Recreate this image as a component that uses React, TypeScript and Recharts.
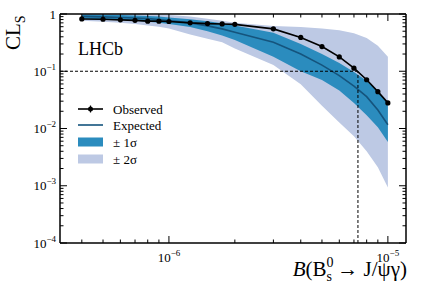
import React from "react";
import {
  Area,
  ComposedChart,
  Legend,
  Line,
  ReferenceLine,
  XAxis,
  YAxis,
} from "recharts";

// branching fraction scan points
const scanPoints = [
  4e-7, 5e-7, 6e-7, 7e-7, 8e-7, 9e-7, 1e-6, 1.25e-6, 1.5e-6, 1.75e-6, 2e-6,
  3e-6, 4e-6, 5e-6, 6e-6, 7e-6, 8e-6, 9e-6, 1e-5,
];
const observed = [
  0.82, 0.81, 0.79, 0.775, 0.75, 0.75, 0.74, 0.7, 0.68, 0.67, 0.66, 0.55, 0.39,
  0.27, 0.178, 0.113, 0.071, 0.044, 0.028,
];
const expected = [
  0.91, 0.89, 0.87, 0.85, 0.83, 0.8, 0.77, 0.7, 0.62, 0.55, 0.48, 0.32, 0.2,
  0.128, 0.084, 0.055, 0.036, 0.021, 0.0116,
];
const sigma1Lo = [
  0.83, 0.81, 0.79, 0.76, 0.73, 0.7, 0.67, 0.59, 0.5, 0.42, 0.35, 0.18, 0.1,
  0.07, 0.046, 0.028, 0.017, 0.0105, 0.0058,
];
const sigma1Hi = [
  0.98, 0.97, 0.96, 0.94, 0.92, 0.9, 0.87, 0.81, 0.75, 0.69, 0.63, 0.47, 0.3,
  0.2, 0.14, 0.097, 0.068, 0.045, 0.027,
];
const sigma2Lo = [
  0.76, 0.73, 0.7, 0.67, 0.63, 0.6, 0.56, 0.44, 0.37, 0.32, 0.25, 0.128, 0.059,
  0.025, 0.0127, 0.0073, 0.004, 0.0021, 0.00093,
];
const sigma2Hi = [
  1.0, 1.0, 1.0, 1.0, 0.99, 0.98, 0.96, 0.9, 0.83, 0.76, 0.7, 0.62, 0.59, 0.56,
  0.52, 0.46, 0.38, 0.28, 0.18,
];

// 90% CL upper limit
const CL_LEVEL = 0.1;
const UPPER_LIMIT = 7.3e-6;

const X_DOMAIN = [3.18e-7, 1.21e-5];
const Y_DOMAIN = [1e-4, 1];

const xTicks = [
  4e-7, 5e-7, 6e-7, 7e-7, 8e-7, 9e-7, 1e-6, 2e-6, 3e-6, 4e-6, 5e-6, 6e-6, 7e-6,
  8e-6, 9e-6, 1e-5,
];
const yTicks = [1e-4, 1e-3, 1e-2, 1e-1, 1].flatMap((d) =>
  d === 1 ? [1] : [1, 2, 3, 4, 5, 6, 7, 8, 9].map((m) => m * d)
);

const data = scanPoints.map((x, i) => ({
  x,
  observed: observed[i],
  expected: expected[i],
  band1: [sigma1Lo[i], sigma1Hi[i]],
  band2: [sigma2Lo[i], sigma2Hi[i]],
}));

const FONT = '"Liberation Serif", "Times New Roman", serif';
const BAND1 = "#2b8cbe";
const BAND2 = "#bdc9e4";
const EXP_LINE = "#15547d";

const isMajor = (v: number) => {
  const l = Math.log10(v);
  return Math.abs(l - Math.round(l)) < 1e-6;
};

function PowerLabel({ v }: { v: number }) {
  const e = Math.round(Math.log10(v));
  if (e === 0) return <tspan>1</tspan>;
  return (
    <>
      <tspan>10</tspan>
      <tspan dy={-6} fontSize={9}>
        {"\u2212" + Math.abs(e)}
      </tspan>
    </>
  );
}

function AxisTick(props: any) {
  const { x, y, payload, side } = props;
  const v = payload.value;
  const major = isMajor(v);
  const len = major ? 7 : 3.5;
  if (side === "bottom") {
    return (
      <g>
        <line x1={x} y1={y} x2={x} y2={y - len} stroke="#000" strokeWidth={1} />
        {major && (
          <text x={x} y={y + 19} textAnchor="middle" fontSize={13} fontFamily={FONT} fill="#000">
            <PowerLabel v={v} />
          </text>
        )}
      </g>
    );
  }
  if (side === "top") {
    return <line x1={x} y1={y} x2={x} y2={y + len} stroke="#000" strokeWidth={1} />;
  }
  if (side === "right") {
    return <line x1={x} y1={y} x2={x - len} y2={y} stroke="#000" strokeWidth={1} />;
  }
  return (
    <g>
      <line x1={x} y1={y} x2={x + len} y2={y} stroke="#000" strokeWidth={1} />
      {major && (
        <text x={x - 4} y={y + 4.5} textAnchor="end" fontSize={13} fontFamily={FONT} fill="#000">
          <PowerLabel v={v} />
        </text>
      )}
    </g>
  );
}

function LegendBox() {
  const rows = [
    { label: "Observed", kind: "obs" },
    { label: "Expected", kind: "exp" },
    { label: "\u00b1 1\u03c3", kind: "b1" },
    { label: "\u00b1 2\u03c3", kind: "b2" },
  ];
  const ys = [9, 25, 42, 59];
  return (
    <svg width={100} height={70} style={{ display: "block" }}>
      {rows.map((r, i) => {
        const y = ys[i];
        return (
          <g key={r.label}>
            {r.kind === "obs" && (
              <>
                <line x1={2} x2={27} y1={y} y2={y} stroke="#000" strokeWidth={1.6} />
                <circle cx={14.5} cy={y} r={2.5} fill="#000" />
                <line x1={14.5} x2={14.5} y1={y - 3.5} y2={y + 3.5} stroke="#000" strokeWidth={1.2} />
              </>
            )}
            {r.kind === "exp" && (
              <line x1={2} x2={27} y1={y} y2={y} stroke={EXP_LINE} strokeWidth={1.6} />
            )}
            {r.kind === "b1" && <rect x={2} y={y - 4.5} width={25} height={9} fill={BAND1} />}
            {r.kind === "b2" && <rect x={2} y={y - 4.5} width={25} height={9} fill={BAND2} />}
            <text x={37} y={y + 4.5} fontSize={13} fontFamily={FONT} fill="#000">
              {r.label}
            </text>
          </g>
        );
      })}
    </svg>
  );
}

export default function App() {
  return (
    <div style={{ position: "absolute", left: 0, top: 0, width: 427, height: 290, background: "#fff" }}>
      <ComposedChart
        width={427}
        height={290}
        data={data}
        margin={{ top: 0, right: 0, bottom: 0, left: 0 }}
      >
        <XAxis
          xAxisId="b"
          dataKey="x"
          type="number"
          scale="log"
          domain={X_DOMAIN}
          allowDataOverflow
          ticks={xTicks}
          interval={0}
          height={47}
          tickSize={0}
          tickMargin={0}
          tickLine={false}
          axisLine={{ stroke: "#000", strokeWidth: 1.5 }}
          tick={(p: any) => <AxisTick {...p} side="bottom" />}
        />
        <XAxis
          xAxisId="t"
          orientation="top"
          dataKey="x"
          type="number"
          scale="log"
          domain={X_DOMAIN}
          allowDataOverflow
          ticks={xTicks}
          interval={0}
          height={14}
          tickSize={0}
          tickMargin={0}
          tickLine={false}
          axisLine={{ stroke: "#000", strokeWidth: 1.5 }}
          tick={(p: any) => <AxisTick {...p} side="top" />}
        />
        <YAxis
          yAxisId="l"
          type="number"
          scale="log"
          domain={Y_DOMAIN}
          allowDataOverflow
          ticks={yTicks}
          interval={0}
          width={60}
          tickSize={0}
          tickMargin={0}
          tickLine={false}
          axisLine={{ stroke: "#000", strokeWidth: 1.5 }}
          tick={(p: any) => <AxisTick {...p} side="left" />}
        />
        <YAxis
          yAxisId="r"
          orientation="right"
          type="number"
          scale="log"
          domain={Y_DOMAIN}
          allowDataOverflow
          ticks={yTicks}
          interval={0}
          width={21}
          tickSize={0}
          tickMargin={0}
          tickLine={false}
          axisLine={{ stroke: "#000", strokeWidth: 1.5 }}
          tick={(p: any) => <AxisTick {...p} side="right" />}
        />
        <Area
          xAxisId="b"
          yAxisId="l"
          dataKey="band2"
          type="linear"
          stroke="none"
          fill={BAND2}
          fillOpacity={1}
          isAnimationActive={false}
        />
        <Area
          xAxisId="b"
          yAxisId="l"
          dataKey="band1"
          type="linear"
          stroke="none"
          fill={BAND1}
          fillOpacity={1}
          isAnimationActive={false}
        />
        <Line
          xAxisId="b"
          yAxisId="l"
          dataKey="expected"
          type="linear"
          stroke={EXP_LINE}
          strokeWidth={1.6}
          dot={false}
          isAnimationActive={false}
        />
        <ReferenceLine
          xAxisId="b"
          yAxisId="l"
          segment={[
            { x: X_DOMAIN[0], y: CL_LEVEL },
            { x: UPPER_LIMIT, y: CL_LEVEL },
          ]}
          stroke="#000"
          strokeWidth={1}
          strokeDasharray="3 2"
        />
        <ReferenceLine
          xAxisId="b"
          yAxisId="l"
          segment={[
            { x: UPPER_LIMIT, y: Y_DOMAIN[0] },
            { x: UPPER_LIMIT, y: CL_LEVEL },
          ]}
          stroke="#000"
          strokeWidth={1}
          strokeDasharray="3 2"
        />
        <Line
          xAxisId="b"
          yAxisId="l"
          dataKey="observed"
          type="linear"
          stroke="#000"
          strokeWidth={1.6}
          dot={{ r: 2.6, fill: "#000", stroke: "#000", strokeWidth: 0 }}
          isAnimationActive={false}
        />
        <Legend
          layout="vertical"
          align="center"
          verticalAlign="middle"
          content={() => <LegendBox />}
          wrapperStyle={{ left: 76, top: 100, width: 100, height: 70 }}
        />
      </ComposedChart>
      <svg
        width={427}
        height={290}
        style={{ position: "absolute", left: 0, top: 0, pointerEvents: "none" }}
      >
        <text transform="translate(20, 50) rotate(-90)" fontSize={21} fontFamily={FONT} fill="#000">
          CL
          <tspan fontSize={14} dy={5}>
            S
          </tspan>
        </text>
        <text x={78} y={55} fontSize={18} fontFamily={FONT} fill="#000">
          LHCb
        </text>
        <text x={407} y={276} textAnchor="end" fontSize={21} fontFamily={FONT} fill="#000">
          <tspan fontStyle="italic">B</tspan>
          <tspan>(B</tspan>
          <tspan fontSize={14} dy={-9}>
            0
          </tspan>
          <tspan fontSize={14} dx={-7} dy={14}>
            s
          </tspan>
          <tspan dy={-5}>{" \u2192 J/\u03c8\u03b3)"}</tspan>
        </text>
      </svg>
    </div>
  );
}
